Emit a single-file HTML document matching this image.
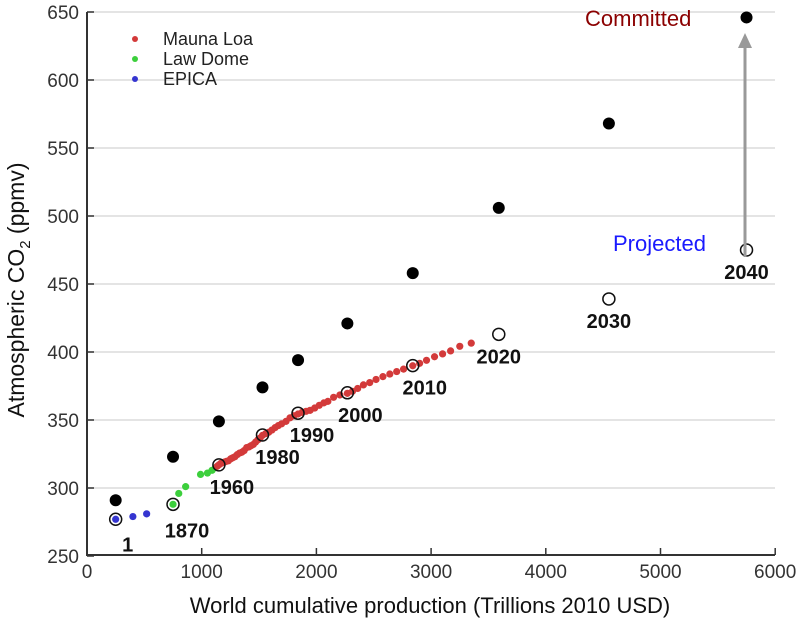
<!DOCTYPE html>
<html><head><meta charset="utf-8"><style>
body{margin:0;background:#fff;font-family:"Liberation Sans",Arial,sans-serif}
svg text{font-family:"Liberation Sans",Arial,sans-serif}
</style></head><body>
<svg id="chart" width="800" height="629" viewBox="0 0 800 629" xmlns="http://www.w3.org/2000/svg">
<g id="grid"></g>
<g id="axes"></g>
<g id="marks"></g>
<g id="labels"></g>
<text transform="translate(24,290) rotate(-90)" text-anchor="middle" font-size="23" fill="#111">Atmospheric CO<tspan font-size="15" dy="6">2</tspan><tspan dy="-6"> (ppmv)</tspan></text>
<text x="430" y="613" text-anchor="middle" font-size="22" fill="#111">World cumulative production (Trillions 2010 USD)</text>
<g>
<circle cx="135" cy="39" r="3" fill="#d33a3a"/>
<text x="163" y="45" font-size="18" fill="#222">Mauna Loa</text>
<circle cx="135" cy="59" r="3" fill="#3ccf3c"/>
<text x="163" y="65" font-size="18" fill="#222">Law Dome</text>
<circle cx="135" cy="79" r="3" fill="#3535d0"/>
<text x="163" y="85" font-size="18" fill="#222">EPICA</text>
</g>
<text x="585" y="26" font-size="22" fill="#8b0000">Committed</text>
<text x="613" y="251" font-size="22" fill="#1a1aff">Projected</text>
<line x1="745" y1="257" x2="745" y2="44" stroke="#999" stroke-width="3"/>
<polygon points="745,33 738,48 752,48" fill="#999"/>
</svg>
<script>
const yTicks=[250,300,350,400,450,500,550,600,650];
const xTicks=[0,1000,2000,3000,4000,5000,6000];
const epicaX=[250,400,520];
const epicaY=[277,279,281];
const lawX=[750,800,860,990,1050,1090,1120];
const lawY=[288,296,301,310,311,313,315];
const maunaX=[1135,1150,1165,1180,1197,1215,1233,1252,1270,1290,1310,1330,1350,1370,1392,1412,1430,1450,1470,1490,1510,1530,1558,1585,1612,1640,1668,1697,1735,1770,1805,1840,1875,1910,1945,1985,2025,2065,2100,2150,2205,2270,2315,2360,2410,2465,2520,2580,2640,2700,2760,2840,2900,2960,3030,3100,3170,3250,3350];
const maunaY=[316,317,318,318.5,319,319.6,320,321.4,322.2,323,324.6,325.7,326.3,327.5,329.7,330.2,331.1,332,333.8,335.4,336.8,338.7,340,341,342.6,344.4,345.9,347.2,349,351.6,353.1,354.4,355.6,356.4,357.1,358.8,360.8,362.6,363.7,366.7,368.4,369.6,371.1,373.2,375.8,377.5,379.8,381.9,383.8,385.6,387.4,389.9,391.7,393.9,396.5,398.6,400.8,404.2,406.5];
const years=["1","1870","1960","1980","1990","2000","2010","2020","2030","2040"];
const prodX=[250,750,1150,1530,1840,2270,2840,3590,4550,5750];
const projectedY=[277,288,317,339,355,370,390,413,439,475];
const committedY=[291,323,349,374,394,421,458,506,568,646];
const labelDX=[12,14,13,15,14,13,12,0,0,0];
const labelDY=[32,33,29,29,29,29,29,29,29,29];
const ns="http://www.w3.org/2000/svg";
const X=v=>87+v*0.1147;
const Y=v=>12+(650-v)*1.36;
function mk(tag,attrs,parent){const e=document.createElementNS(ns,tag);for(const k in attrs)e.setAttribute(k,attrs[k]);parent.appendChild(e);return e;}
const grid=document.getElementById('grid'),axes=document.getElementById('axes'),marks=document.getElementById('marks'),labels=document.getElementById('labels');
yTicks.forEach(t=>{
 if(t>250){const g=mk('line',{x1:87,x2:775,y1:Y(t),y2:Y(t),stroke:'#dcdcdc','stroke-width':1.5},grid);
 
 }
 const tk=mk('line',{x1:87,x2:94,y1:Y(t),y2:Y(t),stroke:'#333','stroke-width':1.5},axes);
 
 
 const tl=mk('text',{x:79,y:Y(t)+7,'text-anchor':'end','font-size':19,fill:'#333'},axes);tl.textContent=t;
 
 
});
xTicks.forEach(t=>{
 const tk=mk('line',{x1:X(t),x2:X(t),y1:555,y2:548,stroke:'#333','stroke-width':1.5},axes);
 
 
 const tl=mk('text',{x:X(t),y:578,'text-anchor':'middle','font-size':19,fill:'#333'},axes);tl.textContent=t;
 
 
});
const ax=mk('path',{d:'M87,12 V555 H775',fill:'none',stroke:'#333','stroke-width':2},axes);


function dots(xs,ys,col,name){xs.forEach((x,i)=>{const c=mk('circle',{cx:X(x),cy:Y(ys[i]),r:3.6,fill:col},marks);
 
 });}
dots(epicaX,epicaY,'#3535d0','epica-point');
dots(lawX,lawY,'#3ccf3c','law-dome-point');
dots(maunaX,maunaY,'#d33a3a','mauna-loa-point');
prodX.forEach((x,i)=>{
 const o=mk('circle',{cx:X(x),cy:Y(projectedY[i]),r:6,fill:'none',stroke:'#111','stroke-width':1.5},marks);
 
 
 const c=mk('circle',{cx:X(x),cy:Y(committedY[i]),r:6,fill:'#000'},marks);
 
 
 const t=mk('text',{x:X(x)+labelDX[i],y:Y(projectedY[i])+labelDY[i],'text-anchor':'middle','font-size':20,'font-weight':'bold',fill:'#111'},labels);
 t.textContent=years[i];
 
 
});
</script>
</body></html>
